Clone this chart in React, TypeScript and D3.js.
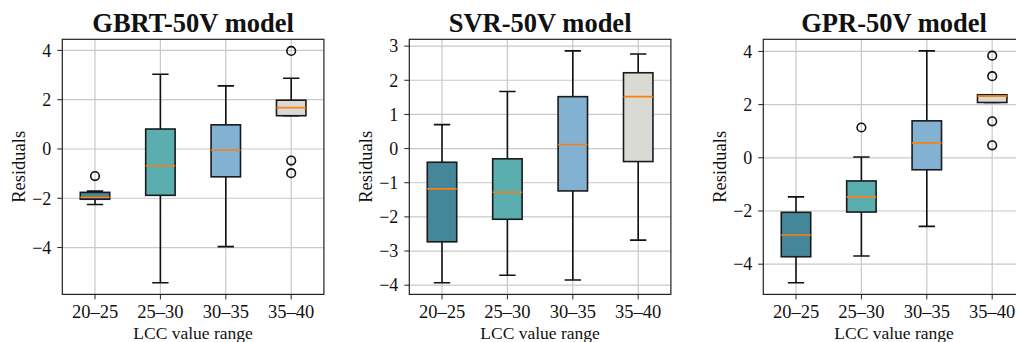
import React from "react";
import * as d3 from "d3";

const categories = ["20–25", "25–30", "30–35", "35–40"];
const titles = ["GBRT-50V model", "SVR-50V model", "GPR-50V model"];
const boxColors = ["#45879A", "#5BAEAF", "#83B1D1", "#D9DAD4"];

// GBRT-50V
const gbrtLow = [-2.25, -5.43, -3.96, 1.35];
const gbrtQ1 = [-2.04, -1.88, -1.13, 1.35];
const gbrtMedian = [-1.96, -0.68, -0.04, 1.68];
const gbrtQ3 = [-1.76, 0.81, 0.98, 1.98];
const gbrtHigh = [-1.71, 3.03, 2.56, 2.87];
const gbrtOutliers = [[-1.1], [], [], [3.98, -0.47, -0.98]];
const gbrtTicks = [-4, -2, 0, 2, 4];

// SVR-50V
const svrLow = [-3.93, -3.71, -3.85, -2.68];
const svrQ1 = [-2.73, -2.07, -1.24, -0.38];
const svrMedian = [-1.18, -1.28, 0.12, 1.52];
const svrQ3 = [-0.4, -0.3, 1.52, 2.22];
const svrHigh = [0.7, 1.67, 2.86, 2.77];
const svrOutliers: number[][] = [[], [], [], []];
const svrTicks = [-4, -3, -2, -1, 0, 1, 2, 3];

// GPR-50V
const gprLow = [-4.7, -3.69, -2.58, 2.08];
const gprQ1 = [-3.72, -2.04, -0.45, 2.08];
const gprMedian = [-2.9, -1.48, 0.56, 2.32];
const gprQ3 = [-2.05, -0.87, 1.39, 2.37];
const gprHigh = [-1.47, 0.03, 4.02, 2.37];
const gprOutliers = [[], [1.14], [], [3.84, 3.07, 1.37, 0.47]];
const gprTicks = [-4, -2, 0, 2, 4];

const panels = [
  { low: gbrtLow, q1: gbrtQ1, med: gbrtMedian, q3: gbrtQ3, high: gbrtHigh, out: gbrtOutliers, ticks: gbrtTicks },
  { low: svrLow, q1: svrQ1, med: svrMedian, q3: svrQ3, high: svrHigh, out: svrOutliers, ticks: svrTicks },
  { low: gprLow, q1: gprQ1, med: gprMedian, q3: gprQ3, high: gprHigh, out: gprOutliers, ticks: gprTicks },
];

const W = 1016;
const H = 342;
const panelLefts = [62.3, 409.3, 763.3];
const axW = 261.6;
const axTop = 39.3;
const axBottom = 294.4;
const FONT = "'Liberation Serif', 'Times New Roman', serif";
const fmt = d3.format("d");

function Panel({ idx }: { idx: number }) {
  const p = panels[idx];
  const left = panelLefts[idx];
  const all = [...p.low, ...p.high, ...p.out.flat()];
  const [mn, mx] = d3.extent(all) as [number, number];
  const pad = (mx - mn) * 0.05;
  const y = d3.scaleLinear().domain([mn - pad, mx + pad]).range([axBottom, axTop]);
  const x = d3.scaleLinear().domain([0.5, 4.5]).range([left, left + axW]);
  const bw = x(1.225) - x(1);
  const cw = x(1.125) - x(1);
  const clipId = `clip${idx}`;
  return (
    <g>
      <defs>
        <clipPath id={clipId}>
          <rect x={left} y={axTop} width={axW} height={axBottom - axTop} />
        </clipPath>
      </defs>
      <g clipPath={`url(#${clipId})`}>
        {p.ticks.map((t) => (
          <line key={"gy" + t} x1={left} x2={left + axW} y1={y(t)} y2={y(t)} stroke="#c9c9c9" strokeWidth={1.2} />
        ))}
        {categories.map((c, i) => (
          <line key={"gx" + c} x1={x(i + 1)} x2={x(i + 1)} y1={axTop} y2={axBottom} stroke="#c9c9c9" strokeWidth={1.2} />
        ))}
        {categories.map((c, i) => {
          const cx = x(i + 1);
          return (
            <g key={"b" + c}>
              <line x1={cx} x2={cx} y1={y(p.q1[i])} y2={y(p.low[i])} stroke="#111" strokeWidth={1.6} />
              <line x1={cx} x2={cx} y1={y(p.q3[i])} y2={y(p.high[i])} stroke="#111" strokeWidth={1.6} />
              <line x1={cx - cw} x2={cx + cw} y1={y(p.low[i])} y2={y(p.low[i])} stroke="#111" strokeWidth={1.6} />
              <line x1={cx - cw} x2={cx + cw} y1={y(p.high[i])} y2={y(p.high[i])} stroke="#111" strokeWidth={1.6} />
              <rect
                x={cx - bw}
                y={y(p.q3[i])}
                width={bw * 2}
                height={y(p.q1[i]) - y(p.q3[i])}
                fill={boxColors[i]}
                stroke="#1a1a1a"
                strokeWidth={1.6}
              />
              <line x1={cx - bw} x2={cx + bw} y1={y(p.med[i])} y2={y(p.med[i])} stroke="#ff7f0e" strokeWidth={1.6} />
              {p.out[i].map((o, k) => (
                <circle key={k} cx={cx} cy={y(o)} r={4.3} fill="none" stroke="#111" strokeWidth={1.6} />
              ))}
            </g>
          );
        })}
      </g>
      <rect x={left} y={axTop} width={axW} height={axBottom - axTop} fill="none" stroke="#222" strokeWidth={1.2} />
      {p.ticks.map((t) => (
        <g key={"ty" + t}>
          <line x1={left - 5} x2={left} y1={y(t)} y2={y(t)} stroke="#222" strokeWidth={1} />
          <text x={left - 11} y={y(t)} dy="0.35em" textAnchor="end" fontFamily={FONT} fontSize={18} fill="#111">
            {fmt(t)}
          </text>
        </g>
      ))}
      {categories.map((c, i) => (
        <g key={"tx" + c}>
          <line x1={x(i + 1)} x2={x(i + 1)} y1={axBottom} y2={axBottom + 5} stroke="#222" strokeWidth={1} />
          <text x={x(i + 1)} y={317.5} textAnchor="middle" fontFamily={FONT} fontSize={18.5} fill="#111">
            {c}
          </text>
        </g>
      ))}
      <text x={left + axW / 2} y={32} textAnchor="middle" fontFamily={FONT} fontSize={26.5} fontWeight="bold" fill="#111">
        {titles[idx]}
      </text>
      <text x={left + axW / 2} y={338.5} textAnchor="middle" fontFamily={FONT} fontSize={17.5} fill="#111">
        LCC value range
      </text>
      <text
        transform={`translate(${left - 37},${(axTop + axBottom) / 2}) rotate(-90)`}
        textAnchor="middle"
        fontFamily={FONT}
        fontSize={18.5}
        fill="#111"
      >
        Residuals
      </text>
    </g>
  );
}

export default function App() {
  return (
    <>
      <style>{`body{margin:0;}`}</style>
      <svg width={W} height={H} style={{ display: "block", background: "#fff" }}>
        <rect width={W} height={H} fill="#fff" />
        {panels.map((_, i) => (
          <Panel key={i} idx={i} />
        ))}
      </svg>
    </>
  );
}
